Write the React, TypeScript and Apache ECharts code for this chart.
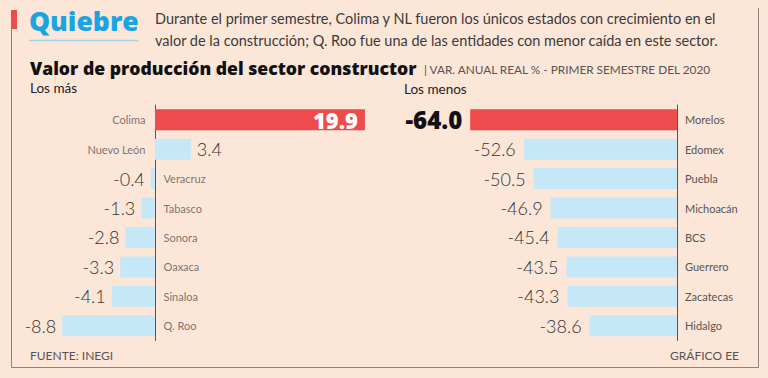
import React, { useEffect, useRef } from "react";
import * as echarts from "echarts";

const leftCategories = ["Colima", "Nuevo León", "Veracruz", "Tabasco", "Sonora", "Oaxaca", "Sinaloa", "Q. Roo"];
const leftValues = [19.9, 3.4, -0.4, -1.3, -2.8, -3.3, -4.1, -8.8];
const rightCategories = ["Morelos", "Edomex", "Puebla", "Michoacán", "BCS", "Guerrero", "Zacatecas", "Hidalgo"];
const rightValues = [-64.0, -52.6, -50.5, -46.9, -45.4, -43.5, -43.3, -38.6];

const headline = "Quiebre";
const subtitleLines = [
  "Durante el primer semestre, Colima y NL fueron los únicos estados con crecimiento en el",
  "valor de la construcción; Q. Roo fue una de las entidades con menor caída en este sector.",
];
const chartTitle = "Valor de producción del sector constructor";
const chartUnit = "| VAR. ANUAL REAL % - PRIMER SEMESTRE DEL 2020";
const leftPanelTitle = "Los más";
const rightPanelTitle = "Los menos";
const sourceText = "FUENTE: INEGI";
const creditText = "GRÁFICO EE";

const BG = "#fce6d8";
const RED = "#ee4b4c";
const BLUE = "#c6e7f7";
const FONT = "Lato, 'Noto Sans', sans-serif";
const HEAVY = "'Open Sans', 'Noto Sans', sans-serif";

export default function App() {
  const ref = useRef<HTMLDivElement>(null);
  useEffect(() => {
    document.body.style.margin = "0";
    document.body.style.background = BG;
    const chart = echarts.init(ref.current!, null, { renderer: "svg" });
    const valueLabelBase = { fontFamily: FONT, fontSize: 18, fontWeight: 300 as any, color: "#333" };

    const leftBarData = leftValues.map((v, i) => {
      const isTop = i === 0;
      return {
        value: v,
        itemStyle: { color: isTop ? RED : BLUE },
        label: isTop
          ? { show: true, position: "insideRight", distance: 7, color: "#fff", fontFamily: HEAVY, fontSize: 22, fontWeight: 800 as any }
          : { show: true, position: v >= 0 ? "right" : "left", distance: 6, ...valueLabelBase },
      };
    });
    const leftNameData = leftValues.map((v, i) => ({
      value: [0, leftCategories[i]],
      label: {
        show: true,
        formatter: leftCategories[i],
        position: v >= 0 ? "left" : "right",
        distance: v >= 0 ? 9 : 8,
        fontFamily: FONT,
        fontSize: 11,
        color: "#555",
      },
    }));
    const rightBarData = rightValues.map((v, i) => {
      const isTop = i === 0;
      return {
        value: v,
        itemStyle: { color: isTop ? RED : BLUE },
        label: isTop
          ? { show: true, position: "left", distance: 8, color: "#111", fontFamily: HEAVY, fontSize: 24, fontWeight: 800 as any }
          : { show: true, position: "left", distance: 8, ...valueLabelBase },
      };
    });

    const fmt = (p: any) => Number(p.value).toFixed(1);

    chart.setOption({
      animation: false,
      backgroundColor: BG,
      grid: [
        { left: 28.4, width: 337.6, top: 105, height: 235.5 },
        { left: 460.8, width: 216.2, top: 105, height: 235.5 },
      ],
      xAxis: [
        { type: "value", gridIndex: 0, min: -12, max: 20, show: false },
        { type: "value", gridIndex: 1, min: -66, max: -20, show: false },
      ],
      yAxis: [
        {
          type: "category",
          gridIndex: 0,
          data: leftCategories,
          inverse: true,
          axisLine: { show: true, onZero: true, lineStyle: { color: "#555", width: 1 } },
          axisTick: { show: false },
          axisLabel: { show: false },
          splitLine: { show: false },
        },
        {
          type: "category",
          gridIndex: 1,
          data: rightCategories,
          inverse: true,
          position: "right",
          axisLine: { show: true, onZero: false, lineStyle: { color: "#555", width: 1 } },
          axisTick: { show: false },
          axisLabel: { show: true, margin: 8, fontFamily: FONT, fontSize: 11, color: "#555" },
          splitLine: { show: false },
        },
      ],
      series: [
        {
          type: "bar",
          xAxisIndex: 0,
          yAxisIndex: 0,
          barWidth: 21,
          data: leftBarData,
          label: { formatter: fmt },
          clip: true,
          z: 2,
        },
        {
          type: "scatter",
          xAxisIndex: 0,
          yAxisIndex: 0,
          symbolSize: 1,
          itemStyle: { color: "rgba(0,0,0,0)" },
          data: leftNameData,
          z: 3,
        },
        {
          type: "bar",
          xAxisIndex: 1,
          yAxisIndex: 1,
          barWidth: 21,
          data: rightBarData,
          label: { formatter: fmt },
          clip: true,
          z: 2,
        },
      ],
      graphic: [
        { type: "line", shape: { x1: 11.5, y1: 10, x2: 11.5, y2: 367.5 }, style: { stroke: "#8c827b", lineWidth: 1 } },
        { type: "line", shape: { x1: 11.5, y1: 367.5, x2: 758.5, y2: 367.5 }, style: { stroke: "#8c827b", lineWidth: 1 } },
        { type: "line", shape: { x1: 758.5, y1: 8, x2: 758.5, y2: 367.5 }, style: { stroke: "#8c827b", lineWidth: 1 } },
        { type: "rect", shape: { x: 11, y: 10, width: 6, height: 19 }, style: { fill: RED } },
        {
          type: "text",
          x: 29,
          y: 21,
          style: { text: headline, fill: "#1ba4e2", font: `800 26.5px ${HEAVY}`, textVerticalAlign: "middle" },
        },
        { type: "line", shape: { x1: 29, y1: 40.5, x2: 138, y2: 40.5 }, style: { stroke: "#9fd4ea", lineWidth: 1.5 } },
        {
          type: "text",
          x: 155,
          y: 18,
          style: { text: subtitleLines[0], fill: "#3a3a3a", font: `400 14.5px ${FONT}`, textVerticalAlign: "middle" },
        },
        {
          type: "text",
          x: 155,
          y: 40,
          style: { text: subtitleLines[1], fill: "#3a3a3a", font: `400 14.5px ${FONT}`, textVerticalAlign: "middle" },
        },
        {
          type: "text",
          x: 30,
          y: 68,
          style: { text: chartTitle, fill: "#111", font: `800 17.6px ${HEAVY}`, textVerticalAlign: "middle" },
        },
        {
          type: "text",
          x: 424,
          y: 69,
          style: { text: chartUnit, fill: "#555", font: `400 11.8px ${FONT}`, textVerticalAlign: "middle" },
        },
        {
          type: "text",
          x: 30,
          y: 88,
          style: { text: leftPanelTitle, fill: "#222", font: `400 13.5px ${FONT}`, textVerticalAlign: "middle" },
        },
        {
          type: "text",
          x: 404,
          y: 89,
          style: { text: rightPanelTitle, fill: "#222", font: `400 13.5px ${FONT}`, textVerticalAlign: "middle" },
        },
        {
          type: "text",
          x: 30,
          y: 355,
          style: { text: sourceText, fill: "#555", font: `400 12px ${FONT}`, textVerticalAlign: "middle" },
        },
        {
          type: "text",
          x: 739,
          y: 355,
          style: { text: creditText, fill: "#555", font: `400 12px ${FONT}`, textAlign: "right", textVerticalAlign: "middle" },
        },
      ],
    });
    return () => chart.dispose();
  }, []);
  return <div ref={ref} style={{ width: 768, height: 378, background: BG }} />;
}
